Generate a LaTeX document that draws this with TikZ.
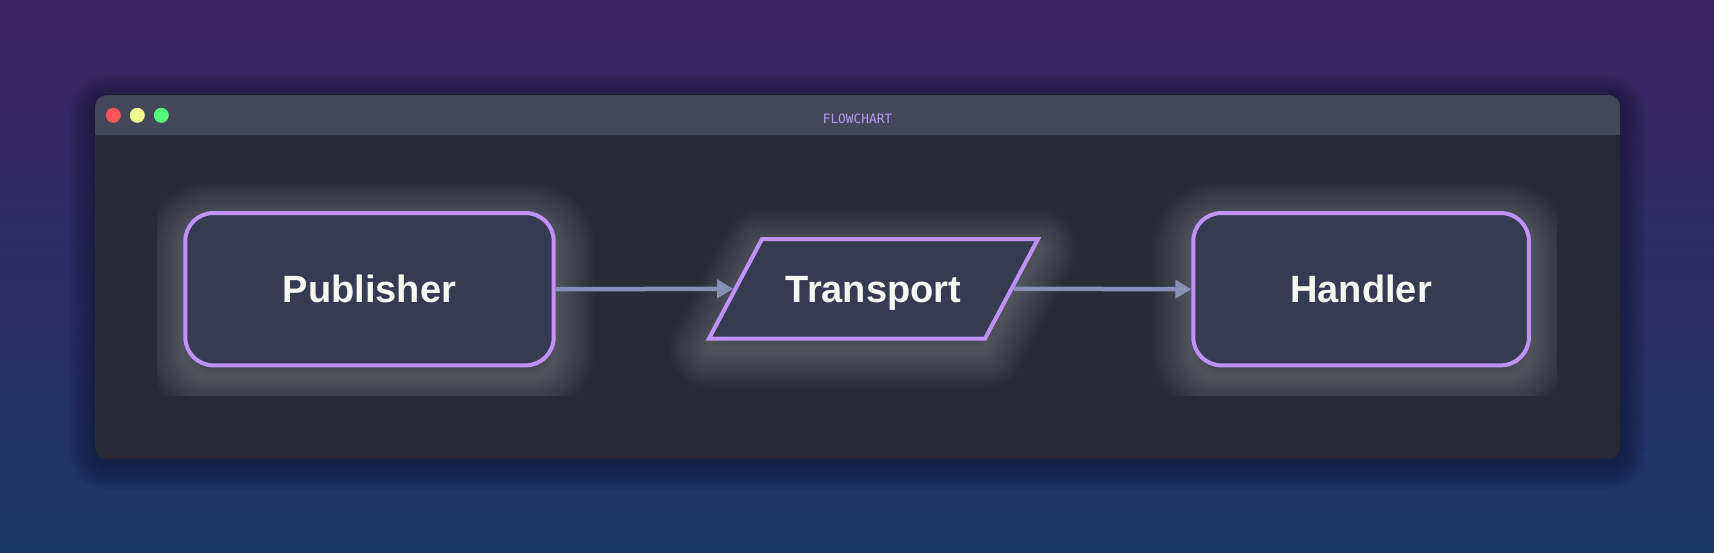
\documentclass[tikz,border=0pt]{standalone}
\usepackage{fontspec}
\setmainfont{Liberation Sans}
\newfontfamily\monofont{DejaVu Sans Mono}
\usetikzlibrary{arrows.meta,calc}
\definecolor{bgtop}{HTML}{3C2362}
\definecolor{bgbot}{HTML}{1B3669}
\definecolor{winbody}{HTML}{282A36}
\definecolor{winbar}{HTML}{44475A}
\definecolor{nodefill}{HTML}{363B52}
\definecolor{nodeline}{HTML}{BD93F9}
\definecolor{txt}{HTML}{F8F8F2}
\definecolor{edgecol}{HTML}{8690B6}
\definecolor{titlecol}{HTML}{BB9AF7}
\definecolor{lred}{HTML}{FF5555}
\definecolor{lyellow}{HTML}{F1FA8C}
\definecolor{lgreen}{HTML}{50FA7B}
\pgfdeclarelayer{bg}
\pgfdeclarelayer{glow}
\pgfdeclarelayer{shapes}
\pgfsetlayers{bg,glow,shapes,main}
\tikzset{
  labelfont/.style={text=txt, font=\fontsize{38}{44}\selectfont\bfseries, text height=27.2pt, text depth=0pt},
  box/.style={labelfont, draw=nodeline, fill=nodefill, line width=4pt, rounded corners=28pt, minimum height=152.3pt, inner sep=0pt},
  parabody/.style={labelfont, minimum width=276pt, minimum height=99.5pt, inner sep=0pt, outer sep=0pt},
  paraline/.style={draw=nodeline, fill=nodefill, line width=4pt, line join=miter},
  light/.style={circle, minimum size=15pt, inner sep=0pt},
  titletext/.style={text=titlecol, font=\monofont\fontsize{12.8}{14}\selectfont, anchor=base, inner sep=0pt},
  flow/.style={draw=edgecol, line width=4.5pt, -{Triangle[length=16pt,width=18pt]}},
  glowline/.style={white, opacity=0.011, line join=round},
  shadowline/.style={black, opacity=0.022, line join=round}
}
\begin{document}
\begin{tikzpicture}[x=1pt,y=-1pt]
\useasboundingbox (0,0) rectangle (1714,553);
% background
\begin{pgfonlayer}{bg}
\shade[top color=bgtop, bottom color=bgbot] (0,0) rectangle (1714,553);
\foreach \w in {4,8,...,52} {
  \draw[shadowline, line width=\w pt, rounded corners=12pt] (95,100) rectangle (1620,464);
}
\fill[winbody, rounded corners=12pt] (95,95) rectangle (1620,459);
\begin{scope}
  \clip[rounded corners=12pt] (95,95) rectangle (1620,459);
  \fill[winbar] (95,95) rectangle (1620,135);
\end{scope}
\end{pgfonlayer}

\node[light, fill=lred] (red) at (113.3,115.3) {};
\node[light, fill=lyellow] (yellow) at (137.3,115.3) {};
\node[light, fill=lgreen] (green) at (161.3,115.3) {};
\node[titletext] (ttl) at (857.5,124) {FLOWCHART};

% nodes
\node[box, minimum width=368.4pt] (P) at (369.5,289.2) {Publisher};
\node[parabody] (T) at (873.5,288.8) {Transport};
\node[box, minimum width=335.6pt] (H) at (1361.1,289.2) {Handler};

\begin{pgfonlayer}{shapes}
\draw[paraline] ($(T.north west)+(26.5,0)$) -- ($(T.north east)+(26.5,0)$)
  -- ($(T.south east)+(-26.5,0)$) -- ($(T.south west)+(-26.5,0)$) -- cycle;
\end{pgfonlayer}

% glow
\begin{pgfonlayer}{glow}
\begin{scope}
\clip (157,185) rectangle (1557,395);
\foreach \w in {4,8,...,80} {
  \draw[glowline, line width=\w pt, rounded corners=28pt] ([yshift=-10pt]P.south west) rectangle ([yshift=-10pt]P.north east);
  \draw[glowline, line width=\w pt, rounded corners=28pt] ([yshift=-10pt]H.south west) rectangle ([yshift=-10pt]H.north east);
  \draw[glowline, line width=\w pt] ($(T.north west)+(26.5,10)$) -- ($(T.north east)+(26.5,10)$)
    -- ($(T.south east)+(-26.5,10)$) -- ($(T.south west)+(-26.5,10)$) -- cycle;
}
\end{scope}
\end{pgfonlayer}

% connectors
\draw[flow, shorten >=2.3pt] (P.east) -- (T.west);
\draw[flow, shorten <=2.3pt] (T.east) -- (H.west);
\end{tikzpicture}
\end{document}
